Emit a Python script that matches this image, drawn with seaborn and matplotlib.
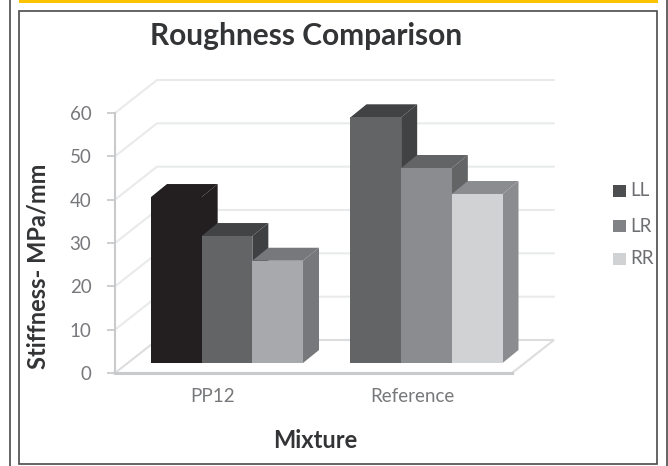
import matplotlib
matplotlib.use("Agg")
import matplotlib.pyplot as plt
from matplotlib.patches import Polygon, Rectangle
from matplotlib.transforms import ScaledTranslation
import pandas as pd
import seaborn as sns

categories = ["PP12", "Reference"]
series_names = ["LL", "LR", "RR"]
ll_values = [38.3, 56.7]
lr_values = [29.3, 45.0]
rr_values = [23.6, 39.0]
y_ticks = [0, 10, 20, 30, 40, 50, 60]
front_colors = {"PP12": ["#231f20", "#636466", "#a7a9ac"],
                "Reference": ["#636466", "#8a8c8f", "#d0d2d3"]}
side_colors = {"PP12": ["#231f20", "#3f4042", "#77787b"],
               "Reference": ["#414244", "#636466", "#8a8c8f"]}
top_colors = {"PP12": ["#231f20", "#424345", "#77787b"],
              "Reference": ["#414244", "#636466", "#8a8c8f"]}
legend_colors = ["#4d4e50", "#808285", "#d0d2d3"]

W, H = 668, 466
sns.set_theme(style="white")
plt.rcParams["font.family"] = ["Lato", "DejaVu Sans"]
fig = plt.figure(figsize=(W / 100, H / 100), dpi=100, facecolor="white")
L, R, T, B = 115, 512, 113, 373
ax = fig.add_axes([L / W, 1 - B / H, (R - L) / W, (B - T) / H])
ax.patch.set_alpha(0)

df = pd.DataFrame({
    "Mixture": categories * 3,
    "Series": [s for s in series_names for _ in categories],
    "Value": ll_values + lr_values + rr_values,
})
sns.barplot(data=df, x="Mixture", y="Value", hue="Series", hue_order=series_names,
            order=categories, width=0.762, gap=0, errorbar=None, dodge=True,
            legend=False, ax=ax, linewidth=0)
bars = sorted([p for p in ax.patches if p.get_height() > 0], key=lambda p: p.get_x())

per_cat = 199.5
ax.set_xlim(-(227 - L) / per_cat, 1 + (R - 426.5) / per_cat)
ax.set_ylim(0, 60)
ppu = (B - T) / 60
wall_dx, wall_dy = 42 / per_cat, 33 / ppu
bar_dx, bar_dy = 16 / per_cat, 13 / ppu
base = 10 / ppu
x0, x1 = ax.get_xlim()

# back wall and side wall gridlines, floor
grid = "#e9eaeb"
for v in y_ticks[1:]:
    ax.plot([x0, x0 + wall_dx, x1 + wall_dx], [v, v + wall_dy, v + wall_dy],
            color=grid, lw=1.5, clip_on=False, zorder=1)
ax.add_patch(Polygon([(x0, 0), (x1, 0), (x1 + wall_dx, wall_dy), (x0 + wall_dx, wall_dy)],
                     closed=True, facecolor="white", edgecolor="#dcddde", lw=1.5,
                     clip_on=False, zorder=1))

# extrude each bar through its own geometry
n = 0
for cat in categories:
    for j in range(len(series_names)):
        b = bars[n]
        n += 1
        z = 5 + j * 0.3
        b.set_y(base)
        b.set_facecolor(front_colors[cat][j])
        b.set_clip_on(False)
        b.set_zorder(z + 0.1)
        xa, xb = b.get_x(), b.get_x() + b.get_width()
        ya, yb = base, base + b.get_height()
        ax.add_patch(Polygon([(xb, ya), (xb + bar_dx, ya + bar_dy), (xb + bar_dx, yb + bar_dy), (xb, yb)],
                             closed=True, facecolor=side_colors[cat][j], lw=0, clip_on=False, zorder=z))
        ax.add_patch(Polygon([(xa, yb), (xa + bar_dx, yb + bar_dy), (xb + bar_dx, yb + bar_dy), (xb, yb)],
                             closed=True, facecolor=top_colors[cat][j], lw=0, clip_on=False, zorder=z))

sns.despine(ax=ax, top=True, right=True)
for s in ("left", "bottom"):
    ax.spines[s].set_color("#c9cacc")
ax.spines["left"].set_linewidth(1.5)
ax.spines["bottom"].set_linewidth(2.2)
ax.set_yticks(y_ticks)
ax.tick_params(axis="y", left=True, length=6, width=1.3, color="#c9cacc",
               labelsize=13.5, labelcolor="#77787b", pad=11)
ax.tick_params(axis="x", bottom=False, labelsize=13.5, labelcolor="#77787b", pad=5)
shift = ScaledTranslation(-14 / 100, 0, fig.dpi_scale_trans)
for lab in ax.get_xticklabels():
    lab.set_transform(lab.get_transform() + shift)
ax.set_xlabel("")
ax.set_ylabel("")
ax.grid(False)

fig.text(306 / W, 1 - 36 / H, "Roughness Comparison", ha="center", va="center",
         fontsize=21.5, fontweight="bold", color="#333436")
fig.text(315 / W, 1 - 441 / H, "Mixture", ha="center", va="center",
         fontsize=17, fontweight="bold", color="#333436")
fig.text(38 / W, 1 - 266 / H, "Stiffness- MPa/mm", ha="center", va="center", rotation=90,
         fontsize=17, fontweight="bold", color="#333436")

# legend
for name, col, yp in zip(series_names, legend_colors, [191, 226, 259]):
    fig.add_artist(Rectangle((613 / W, 1 - (yp + 6) / H), 13 / W, 12 / H,
                             transform=fig.transFigure, facecolor=col, lw=0))
    fig.text(630 / W, 1 - yp / H, name, va="center", fontsize=13.5, color="#6d6e71")

# page frame
fig.add_artist(Rectangle((19 / W, 1 - 3 / H), 639 / W, 3 / H, transform=fig.transFigure,
                         facecolor="#fdc300", lw=0))
fig.add_artist(Rectangle((19 / W, 1 - 464 / H), 638 / W, 453 / H, transform=fig.transFigure,
                         facecolor="none", edgecolor="#4a4a4a", lw=1.2))
for xp in (9.5, 667):
    fig.add_artist(plt.Line2D([xp / W, xp / W], [0, 1], transform=fig.transFigure,
                              color="#4a4a4a", lw=1.2))

fig.savefig("out.png", dpi=100)
